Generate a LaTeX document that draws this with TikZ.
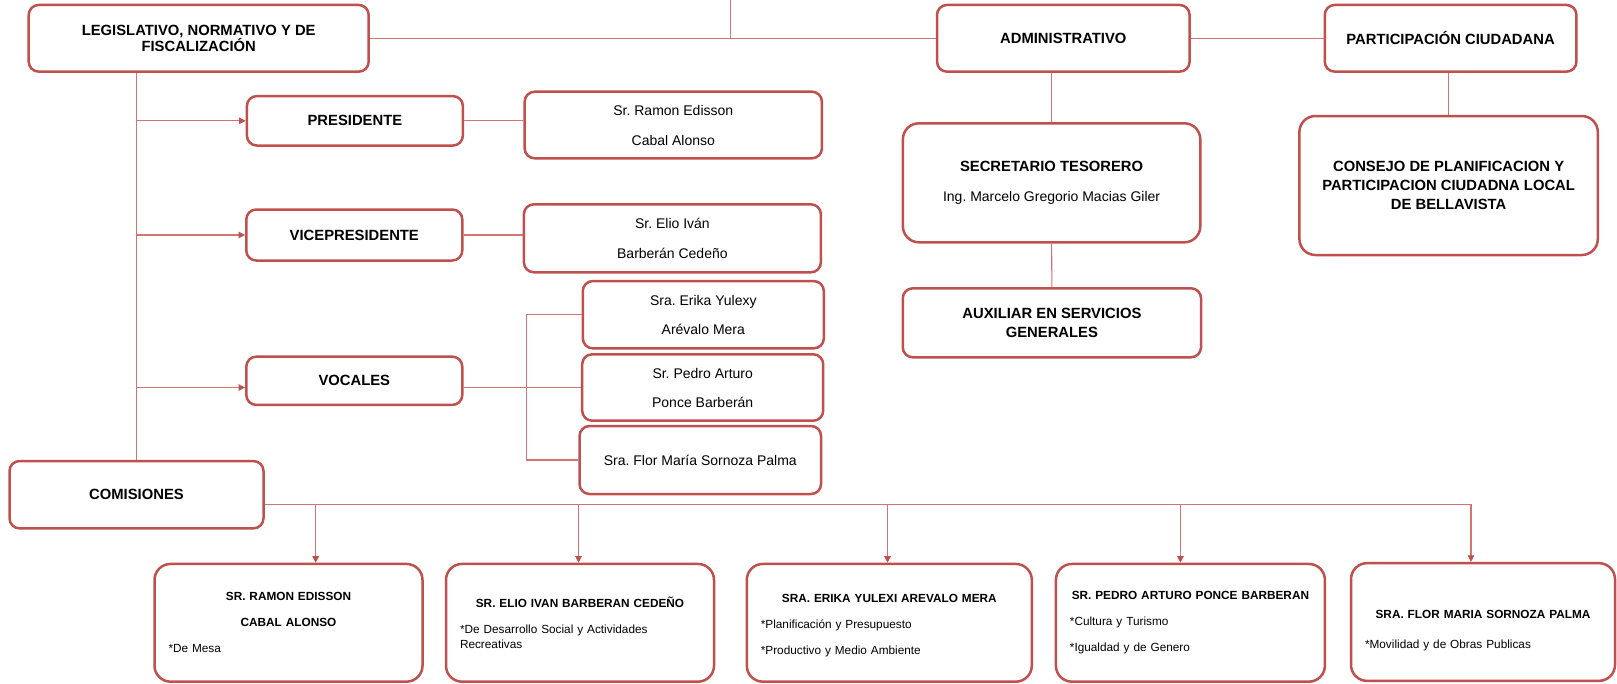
\documentclass[tikz,border=0pt]{standalone}
\usepackage{fontspec}
\setmainfont{Liberation Sans}
\usetikzlibrary{arrows.meta}
\definecolor{boxred}{HTML}{C0504D}
\definecolor{linered}{HTML}{D27472}

\begin{document}
\frenchspacing
\begin{tikzpicture}[x=1pt, y=-1pt,
    >={Triangle[length=6.5pt,width=6.5pt,color=boxred]},
    box/.style={draw=boxred, line width=2.5pt, rounded corners=10pt, fill=white,
                align=center, inner sep=0pt, font=\fontsize{14.8}{17}\selectfont\bfseries},
    namebox/.style={box, font=\fontsize{14}{17}\selectfont},
    bigbox/.style={box, rounded corners=16pt},
    combox/.style={bigbox, minimum height=117.7pt, inner xsep=14pt, align=left,
                   font=\fontsize{11.8}{15}\selectfont},
    line/.style={draw=linered, line width=1.1pt},
    arr/.style={line, ->}]
\useasboundingbox (0,0) rectangle (1617,683);
\fill[white] (0,0) rectangle (1617,683);

% upper row
\node[box, minimum width=340pt, minimum height=66.7pt, font=\fontsize{14.8}{13.5}\selectfont\bfseries]
    (leg) at (198.7,38.3) {LEGISLATIVO, NORMATIVO Y DE\\FISCALIZACIÓN};
\node[box, minimum width=252.6pt, minimum height=66.7pt] (adm) at (1063.3,38.3) {ADMINISTRATIVO};
\node[box, minimum width=251.7pt, minimum height=66.7pt] (par) at (1450.6,38.3) {PARTICIPACIÓN CIUDADANA};
\coordinate (top) at (730.6,0);

% legislativo branch
\node[box, minimum width=216pt, minimum height=49.5pt] (pres) at (354.9,120.8) {PRESIDENTE};
\node[box, minimum width=216pt, minimum height=51pt] (vice) at (354.3,235) {VICEPRESIDENTE};
\node[box, minimum width=216pt, minimum height=48.3pt] (voc) at (354.3,380.8) {VOCALES};
\node[namebox, minimum width=297.3pt, minimum height=66.6pt] (ramon) at (673.3,125) {Sr. Ramon Edisson\\[13pt]Cabal Alonso};
\node[namebox, minimum width=297pt, minimum height=68pt] (elio) at (672.4,238.3) {Sr. Elio Iván\\[12.4pt]Barberán Cedeño};
\node[namebox, minimum width=241pt, minimum height=67.3pt] (erika) at (703.3,314.7) {Sra. Erika Yulexy\\[12.3pt]Arévalo Mera};
\node[namebox, minimum width=241pt, minimum height=66.4pt] (pedro) at (702.7,387.5) {Sr. Pedro Arturo\\[12pt]Ponce Barberán};
\node[namebox, minimum width=241.5pt, minimum height=68pt] (flor) at (700.3,460) {Sra. Flor María Sornoza Palma};
\node[box, minimum width=254pt, minimum height=67.3pt] (com) at (136.5,494.7) {COMISIONES};
\coordinate (brk) at (526.5,387.5);

% administrativo and participacion branches
\node[bigbox, minimum width=297.4pt, minimum height=119pt] (sec) at (1051.6,182.8)
    {SECRETARIO TESORERO\\[13pt]{\mdseries\fontsize{14}{17}\selectfont Ing. Marcelo Gregorio Macias Giler}};
\node[box, minimum width=298.3pt, minimum height=69pt, font=\fontsize{14.8}{18.4}\selectfont\bfseries]
    (aux) at (1051.9,322.8) {AUXILIAR EN SERVICIOS\\GENERALES};
\node[bigbox, minimum width=298.4pt, minimum height=139pt, font=\fontsize{14.8}{18.8}\selectfont\bfseries]
    (con) at (1448.6,185.5) {CONSEJO DE PLANIFICACION Y\\PARTICIPACION CIUDADNA LOCAL\\DE BELLAVISTA};

% comisiones
\node[combox, text width=240pt] (c1) at (288.5,622.8)
    {{\centering\bfseries SR. RAMON EDISSON\\[11pt]CABAL ALONSO\par}\vspace{11pt}*De Mesa};
\node[combox, text width=240pt] (c2) at (580,622.8)
    {{\centering\bfseries SR. ELIO IVAN BARBERAN CEDEÑO\par}\vspace{11pt}*De Desarrollo Social y Actividades\\Recreativas};
\node[combox, text width=257pt] (c3) at (889.3,622.8)
    {{\centering\bfseries\rule{0pt}{13pt}SRA. ERIKA YULEXI AREVALO MERA\par}\vspace{11pt}*Planificación y Presupuesto\\[11pt]*Productivo y Medio Ambiente};
\node[combox, text width=241pt] (c4) at (1190.4,622.8)
    {{\centering\bfseries SR. PEDRO ARTURO PONCE BARBERAN\par}\vspace{11pt}*Cultura y Turismo\\[11pt]*Igualdad y de Genero};
\node[combox, text width=236pt] (c5) at (1483,622)
    {{\centering\bfseries\rule{0pt}{26pt}SRA. FLOR MARIA SORNOZA PALMA\par}\vspace{15pt}*Movilidad y de Obras Publicas};
\coordinate (bus) at ([yshift=-9.6pt]com.east);
\coordinate (a1) at ([xshift=27.2pt]c1.north);
\coordinate (a2) at ([xshift=-1.5pt]c2.north);
\coordinate (a3) at ([xshift=-1.8pt]c3.north);
\coordinate (a4) at ([xshift=-10pt]c4.north);
\coordinate (a5) at ([xshift=-12pt]c5.north);

% connectors, drawn behind the boxes
\begin{scope}[on background layer/.try]
\draw[line] (top) -- (top |- leg.east);
\draw[line] (leg.east) -- (adm.west);
\draw[line] (adm.east) -- (par.west);
\draw[line] (sec.north |- adm.south) -- (sec.north);
\draw[line] (sec.south) -- (aux.north);
\draw[line] (con.north |- par.south) -- (con.north);
\draw[line] (com.north |- leg.south) -- (com.north);
\draw[arr] (com.north |- pres.west) -- (pres.west);
\draw[arr] (com.north |- vice.west) -- (vice.west);
\draw[arr] (com.north |- pedro.west) -- (voc.west |- pedro.west);
\draw[line] (pres.east) -- (pres.east -| ramon.west);
\draw[line] (vice.east) -- (vice.east -| elio.west);
\draw[line] (voc.east |- pedro.west) -- (pedro.west);
\draw[line] (erika.west) -- (erika.west -| brk) -- (flor.west -| brk) -- (flor.west);
\draw[line] (bus) -- (bus -| a5);
\draw[arr] (a1 |- bus) -- (a1);
\draw[arr] (a2 |- bus) -- (a2);
\draw[arr] (a3 |- bus) -- (a3);
\draw[arr] (a4 |- bus) -- (a4);
\draw[arr] (a5 |- bus) -- (a5);
\end{scope}
\end{tikzpicture}
\end{document}
